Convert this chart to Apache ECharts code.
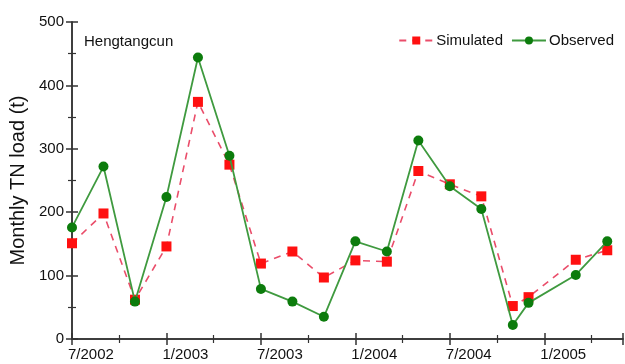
<!DOCTYPE html>
<html>
<head>
<meta charset="utf-8">
<script src="https://cdn.jsdelivr.net/npm/echarts@6/dist/echarts.min.js"></script>
<style>html,body{margin:0;padding:0;background:#fff}#c{width:625px;height:364px}</style>
</head>
<body>
<div id="c"></div>
<script>
const dates = ["7/2002","9/2002","11/2002","1/2003","3/2003","5/2003","7/2003","9/2003","11/2003","1/2004","3/2004","5/2004","7/2004","9/2004","11/2004","12/2004","3/2005","5/2005"];
const simulated = [151,198,62,146,374,275,119,138,97,124,122,265,244,225,52,66,125,140];
const observed  = [176,272,59,224,444,289,79,59,35,154,138,313,241,205,22,57,101,154];
const yTicks = [0,100,200,300,400,500];
const stationName = "Hengtangcun";

function monthIndex(s){ const [m,y]=s.split('/').map(Number); return (y-2002)*12 + m - 7; }
function monthLabel(v){ const t=6+v; return ((t%12)+1)+'/'+(2002+Math.floor(t/12)); }

const simData = dates.map((d,i)=>[monthIndex(d), simulated[i]]);
const obsData = dates.map((d,i)=>[monthIndex(d), observed[i]]);

const axisCol = '#333';
const txt = '#111';
const font = 'Liberation Sans, Arial, sans-serif';
const chart = echarts.init(document.getElementById('c'));
chart.setOption({
  animation:false,
  grid:{left:72,right:2,top:22,bottom:25},
  title:{text:stationName,left:79,top:29,textStyle:{fontSize:15,fontWeight:'normal',color:txt,fontFamily:font}},
  legend:{right:6,top:28,itemWidth:34,itemHeight:10,itemGap:8,
    textStyle:{fontSize:15,color:txt,fontFamily:font,padding:[0,0,0,-2]},
    data:['Simulated','Observed']},
  xAxis:[{type:'value',min:0,max:35,interval:6,
    axisLine:{lineStyle:{color:axisCol,width:1.5}},
    axisTick:{inside:true,length:6,lineStyle:{color:axisCol,width:1.5}},
    minorTick:{show:true,splitNumber:2,length:4,lineStyle:{color:axisCol,width:1.2}},
    splitLine:{show:false},
    axisLabel:{formatter:monthLabel,showMaxLabel:false,align:'left',margin:8,fontSize:15,color:txt,fontFamily:font,padding:[0,0,0,-4]}
  },{type:'value',min:0,max:35,interval:6,position:'top',
    axisLine:{lineStyle:{color:axisCol,width:1.5}},
    axisTick:{inside:true,length:6,lineStyle:{color:axisCol,width:1.5}},
    minorTick:{show:true,splitNumber:2,length:4,lineStyle:{color:axisCol,width:1.2}},
    splitLine:{show:false},axisLabel:{show:false}}],
  yAxis:[{type:'value',min:0,max:500,interval:100,
    name:'Monthly TN load (t)',nameLocation:'middle',nameGap:44,
    nameTextStyle:{fontSize:20,color:txt,fontFamily:font},
    axisLine:{show:true,lineStyle:{color:axisCol,width:1.5}},
    axisTick:{inside:true,length:6,lineStyle:{color:axisCol,width:1.5}},
    minorTick:{show:true,splitNumber:2,length:4,lineStyle:{color:axisCol,width:1.2}},
    splitLine:{show:false},
    axisLabel:{formatter:v=>yTicks.includes(v)?String(v):'',margin:8,fontSize:15,color:txt,fontFamily:font}
  },{type:'value',min:0,max:500,interval:100,position:'right',
    axisLine:{show:true,lineStyle:{color:axisCol,width:1.5}},
    axisTick:{inside:true,length:6,lineStyle:{color:axisCol,width:1.5}},
    minorTick:{show:true,splitNumber:2,length:4,lineStyle:{color:axisCol,width:1.2}},
    splitLine:{show:false},axisLabel:{show:false}}],
  series:[
    {name:'Simulated',type:'line',data:simData,symbol:'rect',symbolSize:10,
     itemStyle:{color:'#ff1010'},lineStyle:{color:'#ea4d6a',width:1.6,type:[7,6]},z:2},
    {name:'Observed',type:'line',data:obsData,symbol:'circle',symbolSize:10,
     itemStyle:{color:'#0c7c0c'},lineStyle:{color:'#3f9a3f',width:1.8},z:3}
  ]
});
</script>
</body>
</html>
